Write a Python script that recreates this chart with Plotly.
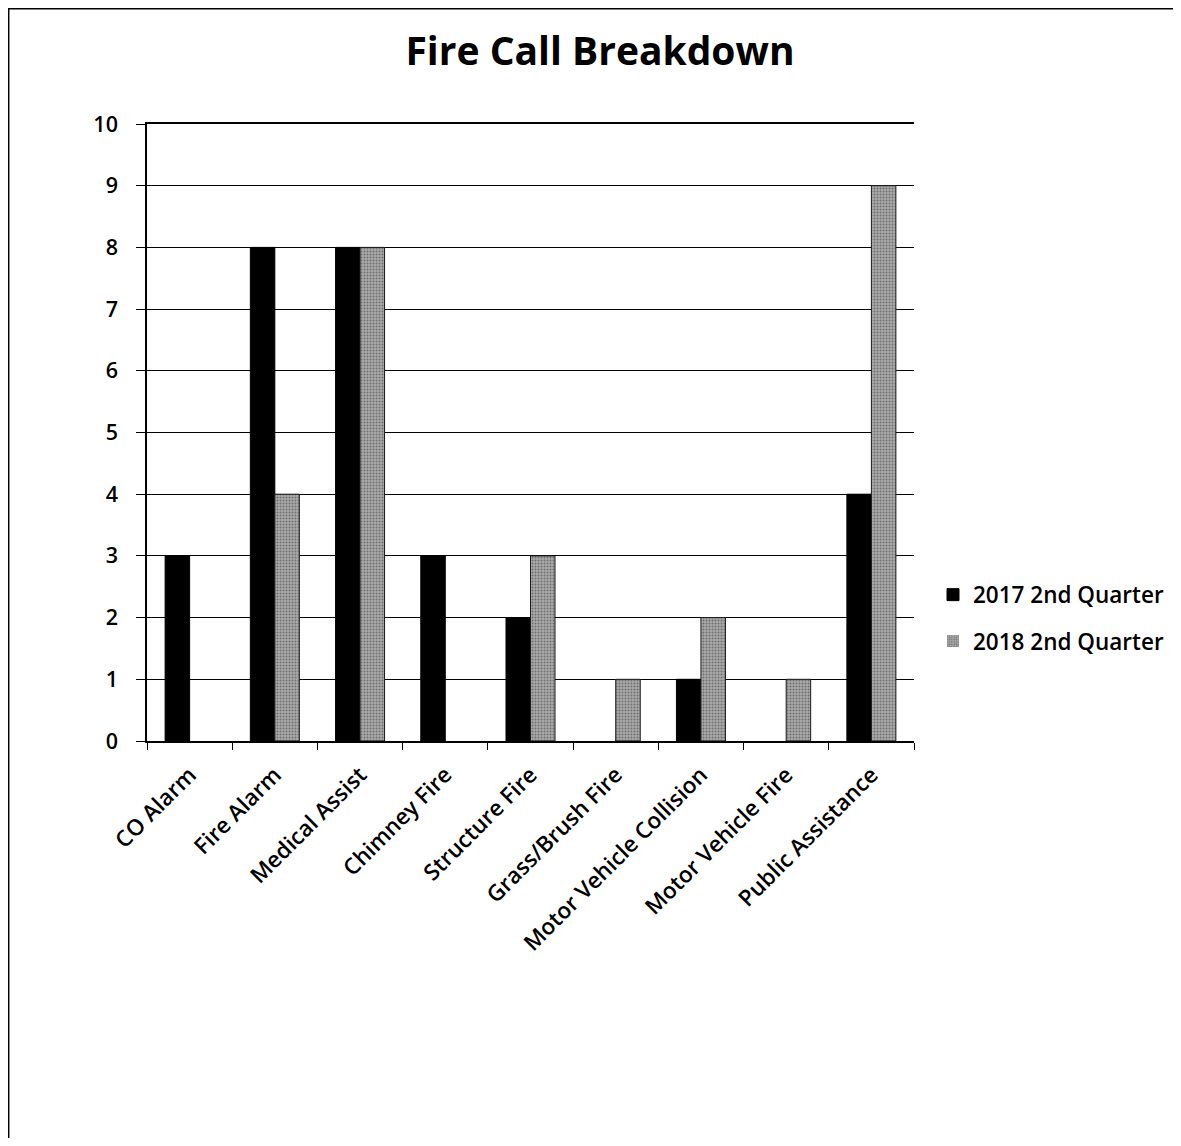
import plotly.graph_objects as go

categories = ["CO Alarm", "Fire Alarm", "Medical Assist", "Chimney Fire", "Structure Fire",
              "Grass/Brush Fire", "Motor Vehicle Collision", "Motor Vehicle Fire", "Public Assistance"]
q2_2017 = [3, 8, 8, 3, 2, 0, 1, 0, 4]
q2_2018 = [0, 4, 8, 0, 3, 1, 2, 1, 9]
series_names = ["2017 2nd Quarter", "2018 2nd Quarter"]
y_ticks = [0, 1, 2, 3, 4, 5, 6, 7, 8, 9, 10]

# page has an 8px body margin; figure coordinates = page coordinates - 8
OFF = 8
W, H = 1181 - 2 * OFF, 1146 - 2 * OFF
L, R, T, B = 147 - OFF, 914 - OFF, 124 - OFF, 741 - OFF

def px(x_page):
    return (x_page - OFF - L) / (R - L)

def py(y_page):
    return (B - (y_page - OFF)) / (B - T)

FONT = "Open Sans"

def edge_widths(vals, w):
    return [w if v else 0 for v in vals]

fig = go.Figure()
fig.add_trace(go.Bar(
    x=categories, y=q2_2017, name=series_names[0], legendgroup="a",
    marker=dict(color="#000000", line=dict(color="#000000", width=edge_widths(q2_2017, 1))),
))
fig.add_trace(go.Bar(
    x=categories, y=q2_2018, name=series_names[1], legendgroup="b",
    marker=dict(color="#a0a0a0", line=dict(color="#1a1a1a", width=edge_widths(q2_2018, 1)),
                pattern=dict(shape=".", fgcolor="#333333", bgcolor="#aaaaaa", size=3, solidity=0.35)),
))

fig.update_layout(
    width=W, height=H,
    margin=dict(l=L, r=W - R, t=T, b=H - B, autoexpand=False),
    paper_bgcolor="white", plot_bgcolor="white",
    barmode="group", bargap=0.425, bargroupgap=0.0,
    title=dict(text="<b>Fire Call Breakdown</b>", x=(600 - OFF) / W, xref="container", xanchor="center",
               y=1 - (51 - OFF) / H, yanchor="middle", yref="container",
               font=dict(family=FONT, size=39, color="#000000")),
    font=dict(family=FONT, color="#000000"),
    showlegend=True,
    legend=dict(x=px(933), xanchor="left", y=py(618), yanchor="middle",
                font=dict(family=FONT, size=22.5, color="#000000", weight=600),
                tracegroupgap=14, bgcolor="rgba(0,0,0,0)"),
    xaxis=dict(type="category", tickangle=-45, tickson="boundaries", ticks="outside",
               ticklen=7, tickcolor="#000000", tickwidth=1, ticklabelstandoff=10,
               showline=True, linecolor="#000000", linewidth=1.5, mirror=True,
               tickfont=dict(family=FONT, size=22.5, color="#000000", weight=600), showgrid=False),
    yaxis=dict(range=[0, 10], tickvals=y_ticks, ticks="outside", ticklen=9, tickcolor="#000000",
               ticklabelstandoff=14,
               showline=True, linecolor="#000000", linewidth=1.5,
               showgrid=True, gridcolor="#000000", gridwidth=1,
               zeroline=True, zerolinecolor="#000000", zerolinewidth=1,
               tickfont=dict(family=FONT, size=21.5, color="#000000", weight=600)),
    shapes=[
        dict(type="line", xref="paper", yref="paper", x0=px(7), x1=px(1181), y0=py(8.7), y1=py(8.7),
             line=dict(color="#000000", width=1.5)),
        dict(type="line", xref="paper", yref="paper", x0=px(8.7), x1=px(8.7), y0=py(8.7), y1=py(1146),
             line=dict(color="#000000", width=1.5)),
    ],
)

fig.write_html("out.html")
